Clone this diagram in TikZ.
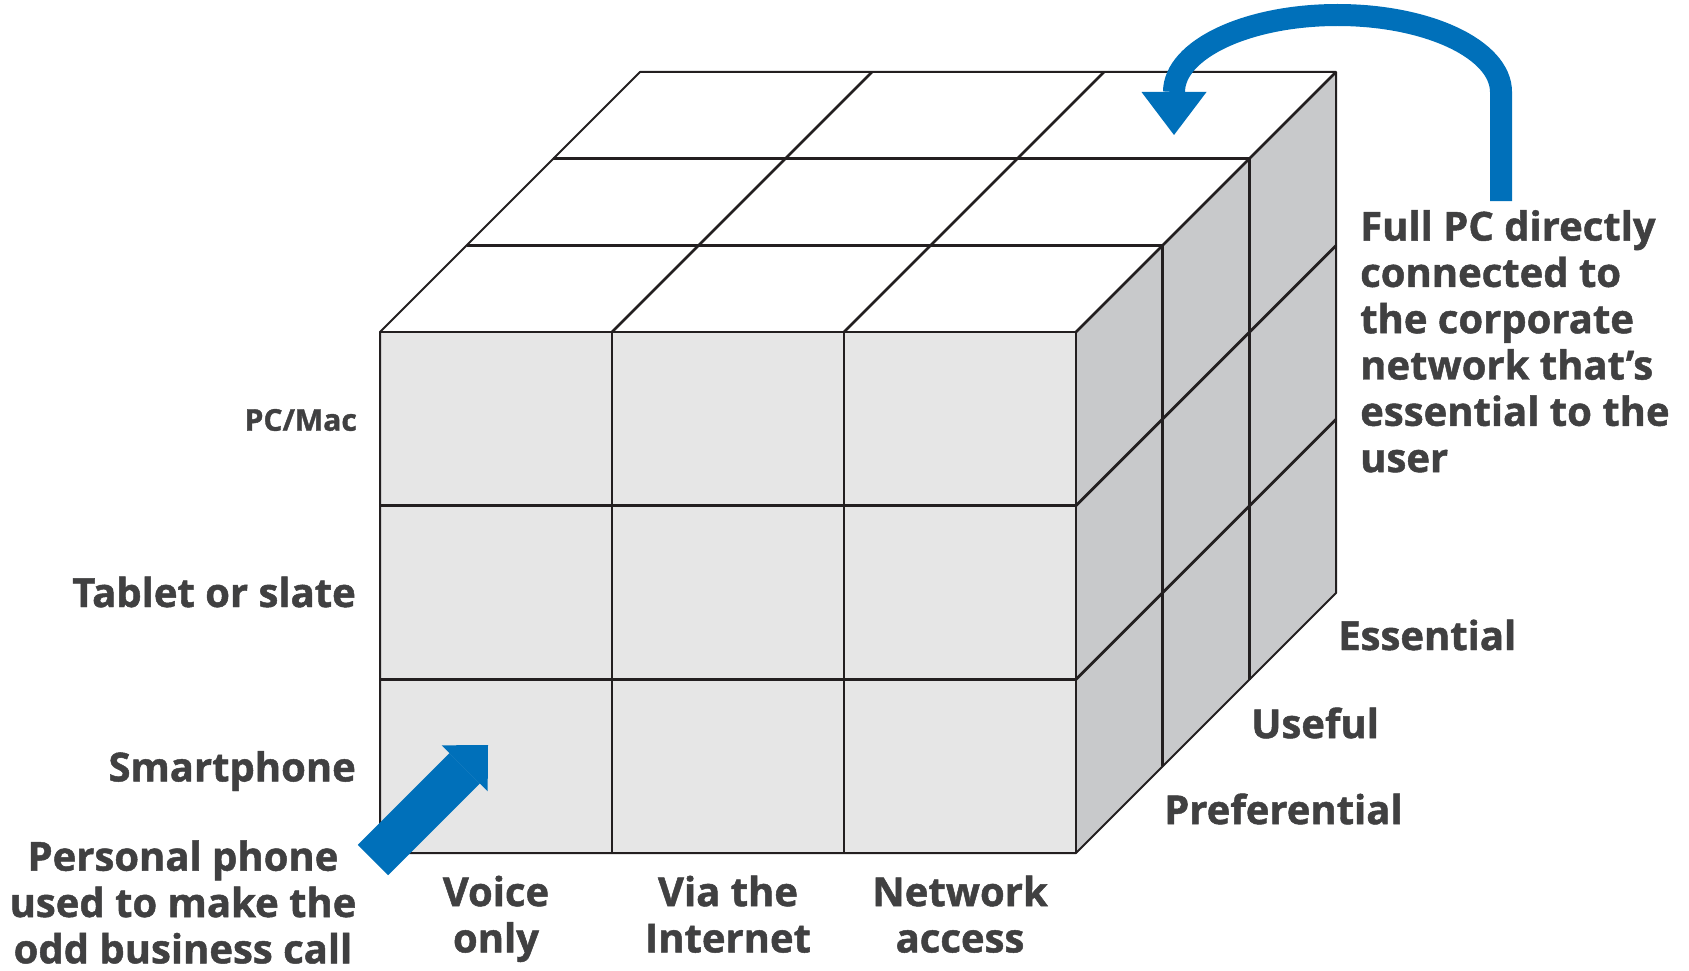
\documentclass[tikz,border=0pt]{standalone}
\usepackage{fontspec}
\setmainfont{Open Sans}[BoldFeatures={FakeBold=1.2}]
\usetikzlibrary{arrows.meta,positioning}

\definecolor{labelgray}{RGB}{64,64,65}
\definecolor{edgeblack}{RGB}{35,31,32}
\definecolor{frontgray}{RGB}{230,230,230}
\definecolor{sidegray}{RGB}{200,201,203}
\definecolor{arrowblue}{RGB}{0,112,186}

\begin{document}
\begin{tikzpicture}[x=1pt,y=-1pt,node distance=232pt,
                    label text/.style={font=\bfseries\fontsize{40}{46.3}\selectfont,text=labelgray,inner sep=0pt},
                    row label/.style={label text,anchor=east},
                    col label/.style={label text,align=center},
                    grid line/.style={draw=edgeblack,line width=2.8pt},
                    rim line/.style={draw=edgeblack,line width=2pt,line join=round},
                    blue arrow/.style={draw=arrowblue}]

        \useasboundingbox (0,0) rectangle (1689,971);

        % Faces of the cube
        \fill[frontgray] (380,332) rectangle (1076,853);
        \fill[white] (380,332) -- (640,72) -- (1336,72) -- (1076,332) -- cycle;
        \fill[sidegray] (1076,332) -- (1336,72) -- (1336,593) -- (1076,853) -- cycle;

        % Grid lines
        \foreach \i in {1,2} {
            \draw[grid line] (380+232*\i,332) -- (380+232*\i,853);
            \draw[grid line] (380,332+173.67*\i) -- (1076,332+173.67*\i);
            \draw[grid line] (380+232*\i,332) -- (640+232*\i,72);
            \draw[grid line] (380+86.67*\i,332-86.67*\i) -- (1076+86.67*\i,332-86.67*\i);
            \draw[grid line] (1076+86.67*\i,332-86.67*\i) -- (1076+86.67*\i,853-86.67*\i);
            \draw[grid line] (1076,332+173.67*\i) -- (1336,72+173.67*\i);
        }
        \draw[grid line] (380,332) -- (1076,332) -- (1076,853);
        \draw[grid line] (1076,332) -- (1336,72);
        \draw[rim line] (380,332) -- (640,72) -- (1336,72) -- (1336,593) -- (1076,853) -- (380,853) -- cycle;

        % Row labels
        \node[row label,font=\bfseries\fontsize{30}{34}\selectfont] (pcmac) at (357,420) {PC/Mac};
        \node[row label] (tablet) at (356,592) {Tablet or slate};
        \node[row label] (phone) at (356,771) {Smartphone};

        % Column labels
        \node[col label] (voice) at (496,920) {\strut Voice\\only\strut};
        \node[col label] (internet) [right of=voice] {\strut Via the\\Internet\strut};
        \node[col label] (network) [right of=internet] {\strut Network\\access\strut};

        % Depth labels
        \node[label text,anchor=west] (pref) at (1164,809) {Preferential};
        \node[label text,anchor=west] (useful) at (1251,723) {Useful};
        \node[label text,anchor=west] (essential) at (1338,635) {Essential};

        % Notes
        \node[col label] (personal) at (183,902) {Personal phone\\used to make the\\odd business call};
        \node[label text,align=left,anchor=north west] (fullpc) at (1360,210)
            {Full PC directly\\connected to\\the corporate\\network that’s\\essential to the\\user};

        % Blue arrows
        \coordinate (callstart) at (373,860);
        \coordinate (calltip) at (488,745);
        \coordinate (pcstart) at (1501,201);
        \coordinate (pctip) at (1174,135);
        \draw[blue arrow,line width=43pt,-{Triangle[length=33pt,width=65pt,line width=0pt]}]
            (callstart) -- (calltip);
        \draw[blue arrow,line width=22pt,-{Triangle[length=43pt,width=65pt,line width=0pt]}]
            (pcstart) -- ++(0,-109) arc[start angle=0,end angle=-180,x radius=163.5,y radius=77] -- (pctip);

\end{tikzpicture}
\end{document}
